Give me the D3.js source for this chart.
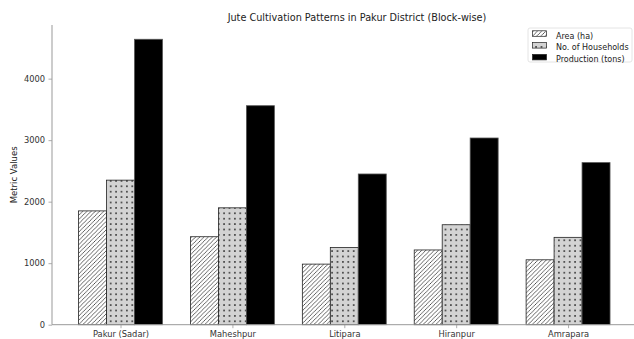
<!DOCTYPE html>
<html><head><meta charset="utf-8">
<script src="https://cdn.jsdelivr.net/npm/d3@7"></script>
<style>
html,body{margin:0;padding:0;background:#fff;}
text{font-family:"DejaVu Sans",sans-serif;}
</style></head>
<body><svg id="c" width="634" height="339"></svg>
<script>
const categories = ["Pakur (Sadar)", "Maheshpur", "Litipara", "Hiranpur", "Amrapara"];
const seriesNames = ["Area (ha)", "No. of Households", "Production (tons)"];
const areaHa = [1850, 1430, 985, 1215, 1055];
const households = [2350, 1900, 1255, 1625, 1420];
const production = [4640, 3560, 2450, 3035, 2635];
const yTicks = [0, 1000, 2000, 3000, 4000];
const title = "Jute Cultivation Patterns in Pakur District (Block-wise)";
const yLabel = "Metric Values";

const series = [areaHa, households, production];
const fills = ["url(#hatchSlash)", "url(#hatchDots)", "#000"];

const svg = d3.select("#c");
const m = {left: 52, right: 0, top: 25, bottom: 14.3};
const W = 634, H = 339;
const plotBottom = H - m.bottom;

const defs = svg.append("defs");
const p1 = defs.append("pattern").attr("id","hatchSlash").attr("patternUnits","userSpaceOnUse").attr("width",4.2).attr("height",4.2);
p1.append("rect").attr("width",4.2).attr("height",4.2).attr("fill","#fff");
p1.append("path").attr("d","M-1,1 L1,-1 M0,4.2 L4.2,0 M3.2,5.2 L5.2,3.2").attr("stroke","#222").attr("stroke-width",0.7);
const p2 = defs.append("pattern").attr("id","hatchDots").attr("patternUnits","userSpaceOnUse").attr("width",5.4).attr("height",5.4);
p2.append("rect").attr("width",5.4).attr("height",5.4).attr("fill","#d3d3d3");
p2.append("circle").attr("cx",2.7).attr("cy",2.7).attr("r",0.8).attr("fill","#111");

const x = d3.scaleLinear().domain([-0.6125, 4.6125]).range([m.left, W + 2.6]);
const yMax = d3.max(production) * 1.05;
const y = d3.scaleLinear().domain([0, yMax]).range([plotBottom, m.top]);
const bw = 0.25;

const g = svg.append("g");
series.forEach((vals, si) => {
  g.selectAll(".b"+si).data(vals).enter().append("rect")
    .attr("x", (d,i) => x(i + (si-1)*bw - bw/2))
    .attr("width", x(bw) - x(0))
    .attr("y", d => y(d))
    .attr("height", d => y(0) - y(d))
    .attr("fill", fills[si])
    .attr("stroke", si === 2 ? "#555" : "#222")
    .attr("stroke-width", 0.8);
});

const yAxis = d3.axisLeft(y).tickValues(yTicks).tickSize(3.5).tickPadding(3.5).tickFormat(d3.format("d"));
const ya = svg.append("g").attr("transform", `translate(${m.left},0)`).call(yAxis);
const xAxis = d3.axisBottom(x).tickValues(d3.range(categories.length)).tickSize(3.5).tickPadding(3).tickFormat(i => categories[i]);
const xa = svg.append("g").attr("transform", `translate(0,${plotBottom})`).call(xAxis);
[ya, xa].forEach(a => {
  a.select(".domain").attr("stroke","#999").attr("stroke-width",1);
  a.selectAll(".tick line").attr("stroke","#999").attr("stroke-width",0.8);
  a.selectAll(".tick text").attr("fill","#333").style("font-size","8.3px").style("font-family","DejaVu Sans");
});
ya.select(".domain").attr("d", `M0,${plotBottom}V${m.top}`);
xa.select(".domain").attr("d", `M${m.left},0H${W}`);

svg.append("text").attr("x", 357).attr("y", 21).attr("text-anchor","middle")
  .attr("fill","#222").style("font-size","9.7px").text(title);
svg.append("text").attr("transform", `translate(17,${(m.top+plotBottom)/2}) rotate(-90)`)
  .attr("text-anchor","middle").attr("fill","#222").style("font-size","8.5px").text(yLabel);

const lg = svg.append("g").attr("transform","translate(528,28)");
lg.append("rect").attr("width",104).attr("height",34).attr("rx",2).attr("fill","#fff").attr("stroke","#ddd").attr("stroke-width",0.8);
seriesNames.forEach((n, i) => {
  const yy = 5.5 + i*11.8;
  lg.append("rect").attr("x",4.5).attr("y",yy-2.7).attr("width",14).attr("height",5.5)
    .attr("fill", fills[i]).attr("stroke", "#222").attr("stroke-width",0.7);
  lg.append("text").attr("x",28).attr("y",yy+5).attr("fill","#222").style("font-size","8px").text(n);
});
</script></body></html>
